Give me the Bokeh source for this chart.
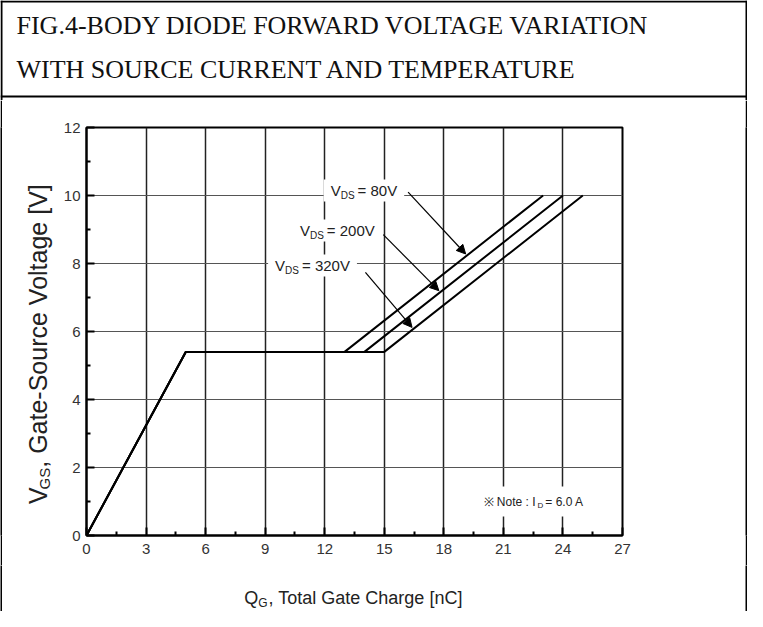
import math
from bokeh.plotting import figure
from bokeh.models import Range1d, Label, Arrow, NormalHead, FixedTicker
from bokeh.layouts import column, row
from bokeh.embed import file_html
from bokeh.resources import INLINE
from bokeh.core.properties import value

# ---------------- data ----------------
title_lines = ["FIG.4-BODY DIODE FORWARD VOLTAGE VARIATION",
               "WITH SOURCE CURRENT AND TEMPERATURE"]
x_ticks = [0, 3, 6, 9, 12, 15, 18, 21, 24, 27]
y_ticks = [0, 2, 4, 6, 8, 10, 12]
vds_names = ["80V", "200V", "320V"]
qg_80 = [0, 5, 13, 23]
vgs_80 = [0, 5.4, 5.4, 10]
qg_200 = [0, 5, 14, 24]
vgs_200 = [0, 5.4, 5.4, 10]
qg_320 = [0, 5, 15, 25]
vgs_320 = [0, 5.4, 5.4, 10]
note_current = "6.0 A"
x_title = [("Q", "main"), ("G", "sub"), (", Total Gate Charge [nC]", "main")]
y_title = [("V", "main"), ("GS", "sub"), (", Gate-Source Voltage [V]", "main")]

# callout placement (label left x, label y, arrow start, arrow end) in data units
callouts = [
    (12.3, 10.15, (16.2, 10.1), (19.1, 8.28)),
    (10.75, 8.97, (14.95, 8.85), (17.75, 7.2)),
    (9.5, 7.94, (14.05, 7.74), (16.4, 6.12)),
]

# ---------------- layout constants ----------------
PAGE_W = 747
TOP_H = 100
MID_H = 465
BOT_H = 46
STRIP = 2
YLAB_W = 56
CHART_W = PAGE_W - 2 * STRIP - YLAB_W
FW, FH = 536, 408
MB_L, MB_T = 28, 27
MB_R = CHART_W - MB_L - FW
MB_B = MID_H - MB_T - FH
XR = (0, 27)
YR = (0, 12)
PX_X = FW / (XR[1] - XR[0])
PX_Y = FH / (YR[1] - YR[0])
SANS = "Liberation Sans"
SERIF = "Liberation Serif"

W = {'V': .667, 'D': .722, 'S': .667, 'G': .778, 'Q': .778, 'I': .278, ' ': .278,
     '=': .584, '.': .278, ',': .278, '-': .333, '[': .278, ']': .278, 'n': .556,
     'C': .722, 'a': .556, 't': .278, 'e': .556, 'o': .556, 'u': .556, 'r': .333,
     'c': .5, 'l': .222, 'g': .556, 'h': .556, 'T': .611, 'N': .722, ':': .278,
     'A': .667, '\u203b': 1.0}


def text_width(s, size):
    return sum(W.get(ch, 0.556) for ch in s) * size


def rich_label(p, x, y, parts, bg=None, padx=0, boxh=0, color="#222"):
    """Composite label inside the chart frame; parts = (text, size, drop, gap)."""
    total = sum(text_width(t, s) + g for t, s, _, g in parts)
    if bg is not None:
        p.rect(x=[x + (total / 2) / PX_X], y=[y], width=[total + 2 * padx],
               height=[boxh], width_units="screen", height_units="screen",
               fill_color=bg, line_color=None)
    adv = 0.0
    for txt, size, drop, gap in parts:
        p.add_layout(Label(x=x + adv / PX_X, y=y - drop / PX_Y, text=txt,
                           text_font=SANS, text_font_size=f"{size}px",
                           text_align="left", text_baseline="middle",
                           text_color=color))
        adv += text_width(txt, size) + gap


def rich_text_px(f, cx, cy, parts, main, sub, drop, gap, vertical=False):
    """Centred composite text in a pixel-unit figure."""
    sizes = [main if k == "main" else sub for _, k in parts]
    gaps = [gap if k == "sub" else 0 for _, k in parts]
    total = sum(text_width(t, s) + g for (t, _), s, g in zip(parts, sizes, gaps))
    adv = -total / 2
    for (txt, kind), size, g in zip(parts, sizes, gaps):
        d = drop if kind == "sub" else 0
        if vertical:
            x, y, ang = cx + d, cy + adv, math.pi / 2
        else:
            x, y, ang = cx + adv, cy - d, 0
        f.text(x=[x], y=[y], text=[txt], angle=ang, text_font=value(SANS),
               text_font_size=f"{size}px", text_align="left",
               text_baseline="middle", text_color="#222")
        adv += text_width(txt, size) + g


def pixel_fig(w, h):
    return figure(width=w, height=h, x_range=Range1d(0, w), y_range=Range1d(0, h),
                  toolbar_location=None, output_backend="svg", min_border=0,
                  x_axis_type=None, y_axis_type=None, outline_line_color=None)


def strip(h):
    return figure(width=STRIP, height=h, toolbar_location=None,
                  output_backend="svg", min_border=0, x_axis_type=None,
                  y_axis_type=None, outline_line_color=None,
                  background_fill_color="black", border_fill_color="black")


# ---------------- title box ----------------
top = pixel_fig(PAGE_W, TOP_H)
top.segment(x0=[0, 0, 1, PAGE_W - 1], y0=[TOP_H - 1, 4, 0, 0],
            x1=[PAGE_W, PAGE_W, 1, PAGE_W - 1], y1=[TOP_H - 1, 4, TOP_H, TOP_H],
            line_color="black", line_width=2)
top.text(x=[16, 16], y=[TOP_H - 25, TOP_H - 69], text=title_lines,
         text_font=value(SERIF), text_font_size="26px",
         text_baseline="middle", text_color="#111")

# ---------------- chart ----------------
p = figure(frame_width=FW, frame_height=FH, x_range=Range1d(*XR),
           y_range=Range1d(*YR), toolbar_location=None, output_backend="svg",
           min_border_left=MB_L, min_border_right=MB_R, min_border_top=MB_T,
           min_border_bottom=MB_B)

p.xaxis.ticker = FixedTicker(ticks=x_ticks,
                             minor_ticks=[t + 1.5 for t in x_ticks[:-1]])
p.yaxis.ticker = FixedTicker(ticks=y_ticks,
                             minor_ticks=[t + 1 for t in y_ticks[:-1]])
for ax in (p.xaxis[0], p.yaxis[0]):
    ax.axis_line_width = 2
    ax.axis_line_color = "black"
    ax.major_tick_in = 8
    ax.major_tick_out = 0
    ax.minor_tick_in = 4
    ax.minor_tick_out = 0
    ax.major_tick_line_width = 2
    ax.minor_tick_line_width = 2
    ax.major_label_text_font = SANS
    ax.major_label_text_font_size = "15px"
    ax.major_label_text_color = "#333"
p.xaxis.major_label_standoff = 8
p.yaxis.major_label_standoff = 6

p.xgrid.grid_line_color = "#222"
p.xgrid.grid_line_width = 1.5
p.ygrid.grid_line_color = "#555"
p.ygrid.grid_line_width = 1.2
p.outline_line_color = "black"
p.outline_line_width = 2
p.outline_line_alpha = 1

for q, v in ((qg_80, vgs_80), (qg_200, vgs_200), (qg_320, vgs_320)):
    p.line(q, v, line_color="black", line_width=2)

for name, (lx, ly, a0, a1) in zip(vds_names, callouts):
    rich_label(p, lx, ly, [("V", 15, 0, 0), ("DS", 10, 5, 3),
                           ("= " + name, 15, 0, 0)],
               bg="white", padx=7, boxh=22)
    p.add_layout(Arrow(x_start=a0[0], y_start=a0[1], x_end=a1[0], y_end=a1[1],
                       line_width=1.2, line_color="black",
                       end=NormalHead(size=9, line_color="black",
                                      fill_color="black")))

rich_label(p, 20.0, 1.0, [("\u203b Note : I", 12, 0, 0), ("D", 8, 4, 2),
                          ("= " + note_current, 12, 0, 0)],
           bg="white", padx=8, boxh=30)

# ---------------- axis titles ----------------
ylab = pixel_fig(YLAB_W, MID_H)
rich_text_px(ylab, 35, MB_B + FH / 2 - 35, y_title, 25, 15, 7, 3, vertical=True)

xlab = pixel_fig(CHART_W + YLAB_W, BOT_H)
rich_text_px(xlab, YLAB_W + MB_L + FW / 2, 14, x_title, 18, 12, 5, 1)

layout = column(top,
                row(strip(MID_H), ylab, p, strip(MID_H)),
                row(strip(BOT_H), xlab, strip(BOT_H)))
open("out.html", "w").write(file_html(layout, INLINE))
